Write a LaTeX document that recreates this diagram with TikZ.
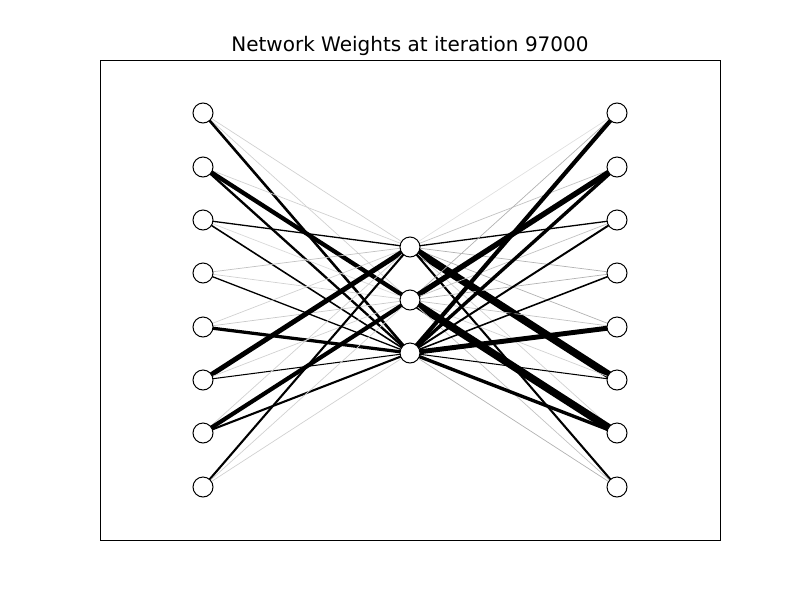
\documentclass[tikz,border=0pt]{standalone}
\usepackage{fontspec}
\setmainfont{DejaVu Sans}
\begin{document}
\begin{tikzpicture}[x=1pt,y=-1pt,
  neuron/.style={circle,draw=black,fill=white,line width=1pt,minimum size=20pt,inner sep=0pt},
  frame/.style={draw=black,line width=1pt}]
\useasboundingbox (0,0) rectangle (800,600);
\node[font=\fontsize{20}{24}\selectfont] (title) at (410,46) {Network Weights at iteration 97000};
\draw[frame] (100,60) rectangle (720,540);
% coordinates
\foreach \i/\y in {1/113,2/167,3/220,4/273,5/327,6/380,7/433,8/487}{
  \coordinate (L\i) at (203,\y);
  \coordinate (R\i) at (617,\y);
}
\coordinate (M1) at (410,247);
\coordinate (M2) at (410,300);
\coordinate (M3) at (410,353);
% left to middle
\foreach \a/\b/\w in {
 1/1/0.3, 1/2/0.3, 1/3/2.0,
 2/1/0.3, 2/2/3.3, 2/3/1.8,
 3/1/1.0, 3/2/0.25, 3/3/1.2,
 4/1/0.4, 4/2/0.3, 4/3/1.0,
 5/1/0.3, 5/2/0.35, 5/3/2.5,
 6/1/3.8, 6/2/0.3, 6/3/0.8,
 7/1/0.3, 7/2/3.2, 7/3/1.6,
 8/1/1.6, 8/2/0.3, 8/3/0.3}{
  \pgfmathsetmacro\c{\w<0.6 ? \w*60 : 100}
  \pgfmathsetmacro\lw{\w<0.6 ? 0.7 : 1.3*\w}
  \draw[line width=\lw pt, draw=black!\c] (L\a) -- (M\b);
}
% middle to right
\foreach \a/\b/\w in {
 1/1/0.2, 1/2/0.4, 1/3/1.0, 1/4/0.5, 1/5/0.5, 1/6/5.8, 1/7/0.3, 1/8/1.6,
 2/1/0.5, 2/2/4.2, 2/3/0.4, 2/4/0.5, 2/5/0.4, 2/6/0.3, 2/7/5.8, 2/8/0.4,
 3/1/3.2, 3/2/2.6, 3/3/1.5, 3/4/1.2, 3/5/3.8, 3/6/0.8, 3/7/2.6, 3/8/0.5}{
  \pgfmathsetmacro\c{\w<0.6 ? \w*60 : 100}
  \pgfmathsetmacro\lw{\w<0.6 ? 0.7 : 1.3*\w}
  \draw[line width=\lw pt, draw=black!\c] (M\a) -- (R\b);
}
\foreach \i in {1,...,8}{
  \node[neuron] (nl\i) at (L\i) {};
  \node[neuron] (nr\i) at (R\i) {};
}
\foreach \i in {1,2,3}{
  \node[neuron] (nm\i) at (M\i) {};
}
\end{tikzpicture}
\end{document}
